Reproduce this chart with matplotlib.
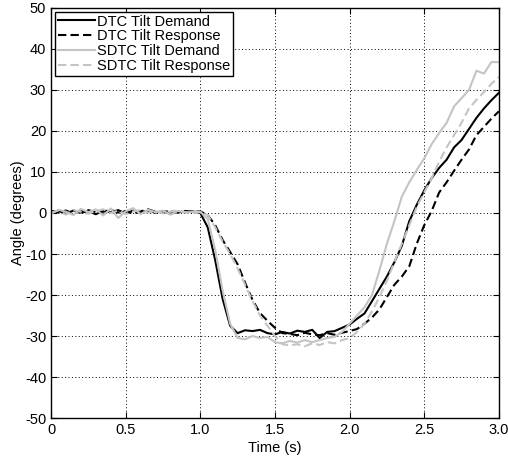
import matplotlib
matplotlib.use("Agg")
import matplotlib.pyplot as plt
import numpy as np

plt.rcParams['font.family'] = ['Liberation Sans', 'DejaVu Sans']
plt.rcParams['axes.unicode_minus'] = False

time = [round(0.05 * i, 2) for i in range(61)]

dtc_demand = [0.3, 0.5, -0.2, 0.6, 0.1, 0.4, -0.3, 0.5, 0.2, 0.7,
              -0.1, 0.6, 0.3, 0.5, 0.1, 0.4, -0.2, 0.3, 0.2, 0.4,
              0.0, -3.5, -11.5, -21.0, -27.5, -29.3, -28.6, -28.8, -28.5, -29.3,
              -29.6, -29.0, -29.4, -28.7, -29.0, -28.5, -30.5, -29.0, -28.8, -28.0,
              -27.2, -25.8, -24.5, -21.5, -18.5, -15.5, -12.0, -8.0, -2.0, 2.0,
              5.5, 8.5, 11.0, 13.0, 16.0, 17.8, 20.5, 23.2, 25.5, 27.5, 29.3]

dtc_response = [0.5, 0.2, 0.6, -0.1, 0.4, 0.7, 0.2, 0.3, 0.8, 0.1,
                0.5, -0.2, 0.4, 0.9, 0.3, 0.2, 0.6, 0.1, 0.5, 0.3,
                0.4, -0.5, -3.0, -6.6, -9.5, -12.5, -17.0, -21.2, -24.4, -26.3,
                -28.0, -29.3, -29.5, -29.8, -29.2, -29.6, -29.8, -29.3, -29.7, -29.2,
                -28.8, -28.3, -27.0, -25.5, -23.5, -20.5, -17.5, -15.5, -13.0, -7.5,
                -3.0, 0.5, 5.0, 7.5, 10.3, 13.0, 15.5, 19.0, 21.0, 23.0, 24.8]

sdtc_demand = [-0.2, 0.8, 0.3, -0.5, 1.0, 0.2, 0.9, -0.6, 1.1, -1.2,
               0.4, 1.2, -0.3, 0.8, 0.2, 0.6, -0.4, 0.5, 0.1, 0.3,
               0.3, -1.5, -9.0, -19.0, -27.0, -30.5, -30.8, -30.0, -30.5, -30.2,
               -31.5, -31.8, -31.2, -31.6, -31.0, -31.5, -31.0, -30.5, -30.2, -29.0,
               -27.0, -25.0, -23.0, -20.0, -14.0, -7.5, -2.0, 4.0, 7.5, 10.5,
               13.3, 16.8, 19.5, 22.0, 26.0, 28.0, 30.0, 34.7, 34.0, 36.8, 36.8]

sdtc_response = [0.1, 0.6, -0.4, 0.7, 0.3, -0.2, 0.5, 0.9, 0.0, 0.6,
                 -0.3, 0.4, 0.7, 0.1, 0.5, -0.1, 0.4, 0.6, 0.2, 0.0,
                 0.2, -0.5, -3.5, -7.0, -10.0, -13.5, -17.5, -21.5, -25.0, -27.5,
                 -30.0, -32.0, -32.3, -32.0, -32.5, -31.8, -32.2, -31.5, -31.8, -31.0,
                 -30.5, -29.0, -27.0, -24.0, -20.5, -16.5, -12.0, -7.5, -3.0, 1.5,
                 5.0, 8.5, 12.5, 16.0, 19.0, 22.0, 25.5, 27.6, 29.5, 31.5, 33.2]

labels = ['DTC Tilt Demand', 'DTC Tilt Response', 'SDTC Tilt Demand', 'SDTC Tilt Response']
x_ticks = [0, 0.5, 1.0, 1.5, 2.0, 2.5, 3.0]
x_tick_labels = ['0', '0.5', '1.0', '1.5', '2.0', '2.5', '3.0']
y_ticks = [-50, -40, -30, -20, -10, 0, 10, 20, 30, 40, 50]

fig = plt.figure(figsize=(5.08, 4.59), dpi=100)
ax = fig.add_axes([0.1004, 0.0893, 0.8816, 0.8933])

gray = '#c4c4c4'
ax.plot(time, dtc_demand, color='black', lw=1.5, ls='-', label=labels[0])
ax.plot(time, dtc_response, color='black', lw=1.5, ls=(0, (4, 2)), label=labels[1])
ax.plot(time, sdtc_demand, color=gray, lw=1.5, ls='-', label=labels[2])
ax.plot(time, sdtc_response, color=gray, lw=1.5, ls=(0, (4, 2)), label=labels[3])

ax.set_xlim(0, 3.0)
ax.set_ylim(-50, 50)
ax.set_xticks(x_ticks)
ax.set_xticklabels(x_tick_labels)
ax.set_yticks(y_ticks)
ax.tick_params(direction='in', top=True, right=True, labelsize=10.5, length=4)
ax.grid(True, color='black', ls=(0, (1, 2.5)), lw=0.7)
for s in ax.spines.values():
    s.set_linewidth(1.0)

ax.set_xlabel('Time (s)', fontsize=10.5, labelpad=3)
ax.set_ylabel('Angle (degrees)', fontsize=10.5, labelpad=0)

leg = ax.legend(loc='upper left', fontsize=10.5, frameon=True, fancybox=False,
                edgecolor='black', framealpha=1.0, handlelength=2.6,
                handletextpad=0.1, borderpad=0.2, labelspacing=0.05,
                borderaxespad=0.25)
leg.get_frame().set_linewidth(1.0)

fig.savefig('out.png', dpi=100)
